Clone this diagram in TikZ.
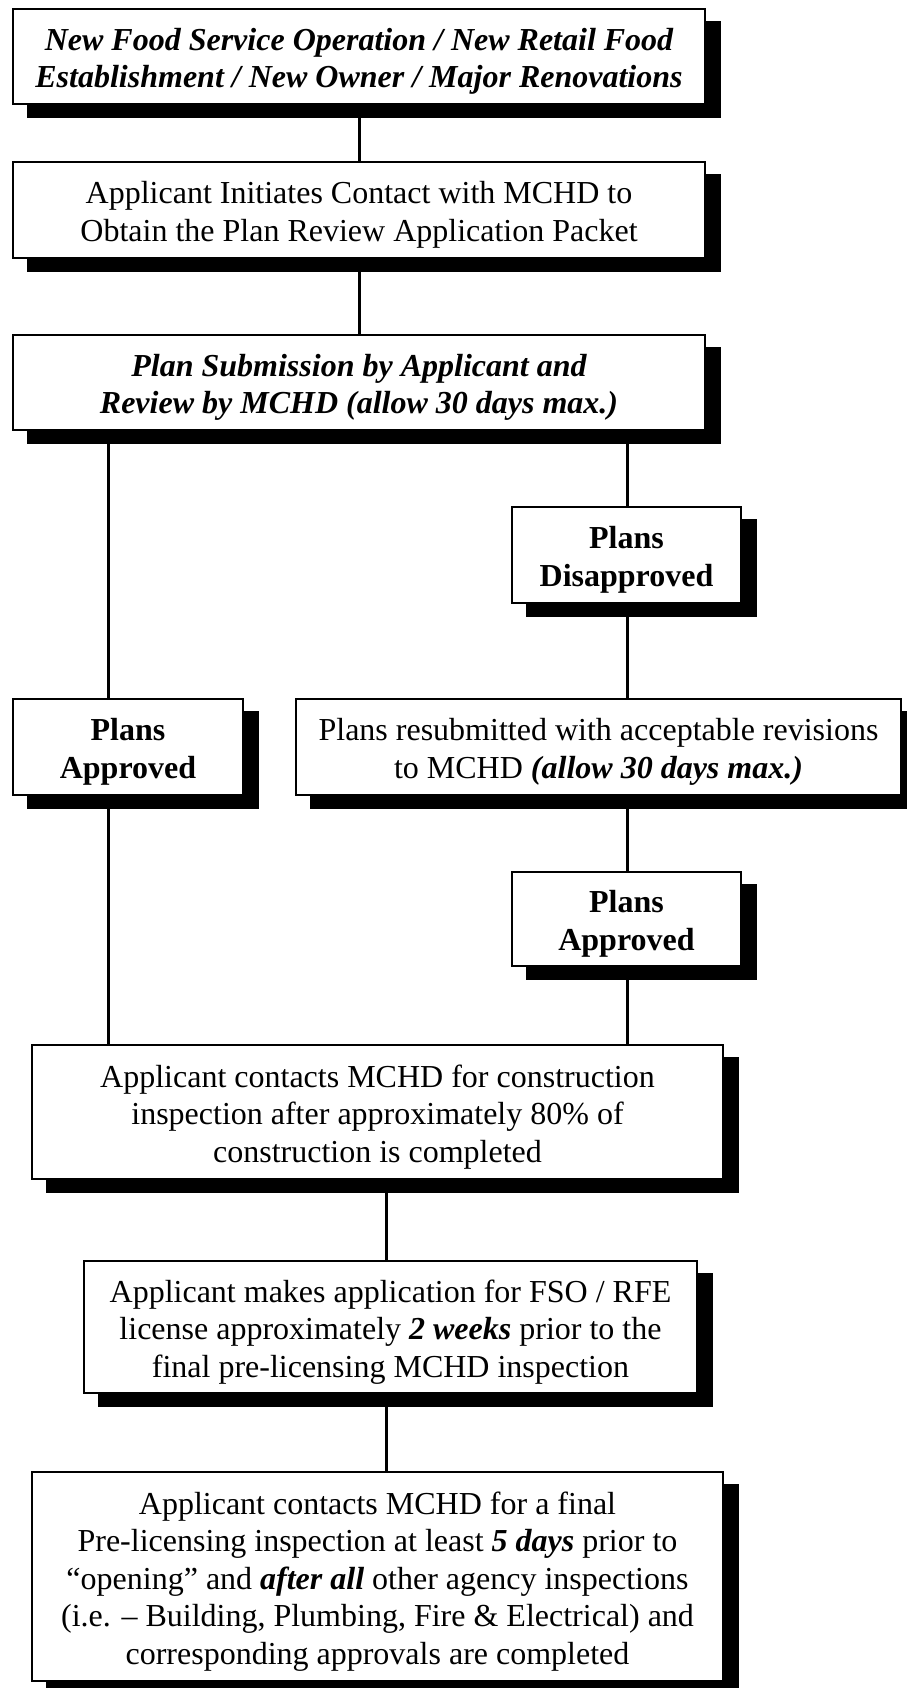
\documentclass[tikz,border=0pt]{standalone}
\usepackage{fontspec}
\setmainfont{Liberation Serif}
\usetikzlibrary{backgrounds}
\newcommand{\bx}[1]{\raisebox{-5pt}[\height][\depth]{\begin{tabular}{@{}c@{}}#1\end{tabular}}}
\begin{document}
\begin{tikzpicture}[x=1pt,y=-1pt,
  box/.style={draw=black,line width=1.5pt,fill=white,rectangle,inner sep=0pt,
    font=\fontsize{32}{37.5}\selectfont},
  bi/.style={box,font=\fontsize{32}{37.5}\selectfont\bfseries\itshape},
  bb/.style={box,font=\fontsize{32}{37.5}\selectfont\bfseries},
  conn/.style={line width=3pt}]
\useasboundingbox (0,0) rectangle (906,1688);
\node[bi,minimum width=692pt,minimum height=95pt] (b1) at (359,56.5)
  {\bx{New Food Service Operation / New Retail Food\\Establishment / New Owner / Major Renovations}};
\node[box,minimum width=692pt,minimum height=96pt] (b2) at (359,210)
  {\bx{Applicant Initiates Contact with MCHD to\\Obtain the Plan Review Application Packet}};
\node[bi,minimum width=692pt,minimum height=95pt] (b3) at (359,382.5)
  {\bx{Plan Submission by Applicant and\\Review by MCHD (allow 30 days max.)}};
\node[bb,minimum width=229pt,minimum height=96pt] (dis) at (626.5,555)
  {\bx{Plans\\Disapproved}};
\node[bb,minimum width=230pt,minimum height=96pt] (apL) at (128,747)
  {\bx{Plans\\Approved}};
\node[box,minimum width=605pt,minimum height=96pt] (res) at (598.5,747)
  {\bx{Plans resubmitted with acceptable revisions\\to MCHD \textbf{\textit{(allow 30 days max.)}}}};
\node[bb,minimum width=229pt,minimum height=94pt] (apR) at (626.5,919)
  {\bx{Plans\\Approved}};
\node[box,minimum width=691pt,minimum height=134pt] (con) at (377.5,1112)
  {\bx{Applicant contacts MCHD for construction\\inspection after approximately 80\% of\\construction is completed}};
\node[box,minimum width=613pt,minimum height=132pt] (fso) at (390.5,1327)
  {\bx{Applicant makes application for FSO / RFE\\license approximately \textbf{\textit{2 weeks}} prior to the\\final pre-licensing MCHD inspection}};
\node[box,minimum width=691pt,minimum height=209pt] (fin) at (377.5,1576.5)
  {\bx{Applicant contacts MCHD for a final\\Pre-licensing inspection at least \textbf{\textit{5 days}} prior to\\“opening” and \textbf{\textit{after all}} other agency inspections\\(i.e. – Building, Plumbing, Fire \& Electrical) and\\corresponding approvals are completed}};
\begin{scope}[on background layer]
\foreach \n in {b1,b2,b3,dis,apL,res,apR,con,fso,fin}
  \fill[black] ([shift={(15pt,-13pt)}]\n.south west) rectangle ([shift={(15pt,-13pt)}]\n.north east);
\end{scope}
\coordinate (xL) at (108,0);
\coordinate (xR) at (627,0);
\coordinate (xM) at (386,0);
\draw[conn] (b1.south) -- (b2.north);
\draw[conn] (b2.south) -- (b3.north);
\draw[conn] (b3.south -| xL) -- (apL.north -| xL);
\draw[conn] (b3.south -| xR) -- (dis.north -| xR);
\draw[conn] (dis.south -| xR) -- (res.north -| xR);
\draw[conn] (res.south -| xR) -- (apR.north -| xR);
\draw[conn] (apL.south -| xL) -- (con.north -| xL);
\draw[conn] (apR.south -| xR) -- (con.north -| xR);
\draw[conn] (con.south -| xM) -- (fso.north -| xM);
\draw[conn] (fso.south -| xM) -- (fin.north -| xM);
\end{tikzpicture}
\end{document}
